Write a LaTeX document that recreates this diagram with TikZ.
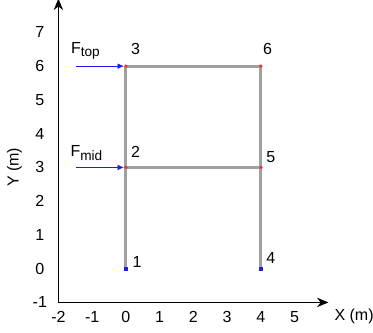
\documentclass[tikz,border=0pt]{standalone}
\usepackage{fontspec}
\setmainfont{Liberation Sans}
\usetikzlibrary{arrows.meta,positioning}
\definecolor{memberGray}{RGB}{160,160,160}
\definecolor{forceBlue}{RGB}{30,30,230}
\definecolor{jointRed}{RGB}{240,50,50}
\newcommand{\lowtext}[1]{\raisebox{-0.45ex}{\fontsize{11.5}{12}\selectfont #1}}

\begin{document}
\begin{tikzpicture}[
    x=1cm,y=1cm,
    every node/.style={font=\fontsize{13.5}{15}\selectfont},
    member/.style={draw=memberGray,line width=2.5pt},
    axis/.style={-{Stealth[length=3.4mm,width=2.8mm]},line width=0.8pt,black},
    force/.style={-{Latex[length=1.8mm,width=1.6mm]},forceBlue,thin},
    joint/.style={circle,fill=jointRed,inner sep=0pt,minimum size=3.2pt},
    support/.style={rectangle,fill=forceBlue,inner sep=0pt,minimum size=3.6pt},
    tick/.style={inner sep=1pt}
  ]
    \useasboundingbox (-3.73,-1.89) rectangle (7.32,7.96);
    % axes
    \coordinate (origin) at (-2,-1);
    \coordinate (xend) at (6,-1);
    \coordinate (yend) at (-2,8);
    \draw[axis] (origin) -- (xend);
    \draw[axis] (origin) -- (yend);
    \foreach \x in {-2,...,5} \node[tick] (xt\x) at (\x,-1.42) {\x};
    \foreach \y in {-1,...,7} \node[tick] (yt\y) at (-2.55,\y) {\y};
    \node[inner sep=0pt] (xlabel) at (6.76,-1.42) {X (m)};
    \node[rotate=90] (ylabel) at (-3.3,3) {Y (m)};

    % joints
    \coordinate (j1) at (0,0);
    \coordinate (j2) at (0,3);
    \coordinate (j3) at (0,6);
    \coordinate (j4) at (4,0);
    \coordinate (j5) at (4,3);
    \coordinate (j6) at (4,6);

    % frame members
    \draw[member] (j1) -- (j2);
    \draw[member] (j2) -- (j3);
    \draw[member] (j4) -- (j5);
    \draw[member] (j5) -- (j6);
    \draw[member] (j2) -- (j5);
    \draw[member] (j3) -- (j6);

    \node[support] (s1) at (j1) {};
    \node[support] (s4) at (j4) {};
    \foreach \j in {2,3,5,6} \node[joint] (d\j) at (j\j) {};

    % joint numbers
    \node (l1) at (0.33,0.2) {1};
    \node (l2) at (0.29,3.45) {2};
    \node (l3) at (0.29,6.5) {3};
    \node (l4) at (4.29,0.33) {4};
    \node (l5) at (4.29,3.3) {5};
    \node (l6) at (4.2,6.5) {6};

    % loads
    \coordinate (ftail) at (-1.48,6);
    \coordinate (mtail) at (-1.48,3);
    \draw[force] (ftail) -- (d3);
    \draw[force] (mtail) -- (d2);
    \node (ftop) at (-1.2,6.45) {F\lowtext{top}};
    \node (fmid) at (-1.17,3.42) {F\lowtext{mid}};
\end{tikzpicture}
\end{document}
